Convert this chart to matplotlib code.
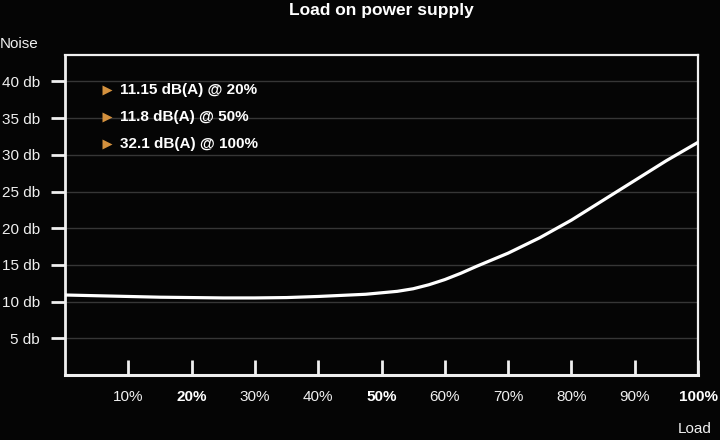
import matplotlib
matplotlib.use("Agg")
import matplotlib.pyplot as plt

plt.rcParams['font.family'] = ['Liberation Sans', 'DejaVu Sans']

# Data
load = [0, 5, 10, 15, 20, 25, 30, 35, 40, 45, 47.5, 50, 52.5, 55, 57.5, 60, 62.5, 65,
        70, 75, 80, 85, 90, 95, 100]
noise = [10.9, 10.8, 10.7, 10.6, 10.55, 10.5, 10.5, 10.55, 10.7, 10.9, 11.0, 11.2, 11.4,
         11.75, 12.3, 13.0, 13.85, 14.8, 16.6, 18.7, 21.1, 23.8, 26.5, 29.2, 31.7]

x_ticks = [10, 20, 30, 40, 50, 60, 70, 80, 90, 100]
x_labels = ['10%', '20%', '30%', '40%', '50%', '60%', '70%', '80%', '90%', '100%']
bold_x = ['20%', '50%', '100%']
y_ticks = [5, 10, 15, 20, 25, 30, 35, 40]
y_labels = ['5 db', '10 db', '15 db', '20 db', '25 db', '30 db', '35 db', '40 db']
notes = ['11.15 dB(A) @ 20%', '11.8 dB(A) @ 50%', '32.1 dB(A) @ 100%']

title = 'Load on power supply'
x_name = 'Load'
y_name = 'Noise'

bg = '#050505'
fg = '#f0f0f0'
grid_c = '#363636'
accent = '#d4913e'

fig = plt.figure(figsize=(7.2, 4.4), dpi=100, facecolor=bg)
ax = fig.add_axes([65/720, 1-375/440, (698-65)/720, (375-55)/440])
ax.set_facecolor(bg)

ax.set_xlim(0, 100)
ax.set_ylim(0, 43.6)

for y in y_ticks:
    ax.axhline(y, color=grid_c, lw=1.0, zorder=1)

ax.plot(load, noise, color='white', lw=2.3, solid_capstyle='round',
        solid_joinstyle='round', zorder=3)

for s in ['left', 'bottom', 'top', 'right']:
    ax.spines[s].set_color(fg)
    ax.spines[s].set_linewidth(1.6)
ax.spines['left'].set_linewidth(2.0)
ax.spines['bottom'].set_linewidth(2.2)

ax.set_xticks(x_ticks)
ax.set_xticklabels(x_labels)
ax.set_yticks(y_ticks)
ax.set_yticklabels(y_labels)

ax.tick_params(axis='x', direction='in', length=11, width=2.0, color=fg,
               labelcolor=fg, labelsize=11, pad=11)
ax.tick_params(axis='y', direction='out', length=10, width=2.0, color=fg,
               labelcolor=fg, labelsize=11, pad=8)
for lab in ax.get_xticklabels():
    if lab.get_text() in bold_x:
        lab.set_fontweight('bold')
        lab.set_color('white')

fig.text(381/720, 1-15/440, title, color='white', fontsize=12.5, fontweight='bold',
         ha='center', va='baseline')
fig.text(0.0, 1-44/440, y_name, color=fg, fontsize=11, ha='left', va='center')
fig.text(712/720, 1-429/440, x_name, color=fg, fontsize=11, ha='right', va='center')

ys = [0.89, 0.806, 0.722]
for yy, t in zip(ys, notes):
    ax.plot([0.067], [yy], marker='>', color=accent, markersize=6.5,
            transform=ax.transAxes, clip_on=False, zorder=4, mec='none')
    ax.text(0.087, yy, t, color='white', fontsize=11, fontweight='bold',
            transform=ax.transAxes, ha='left', va='center')

fig.savefig('out.png', dpi=100, facecolor=bg)
